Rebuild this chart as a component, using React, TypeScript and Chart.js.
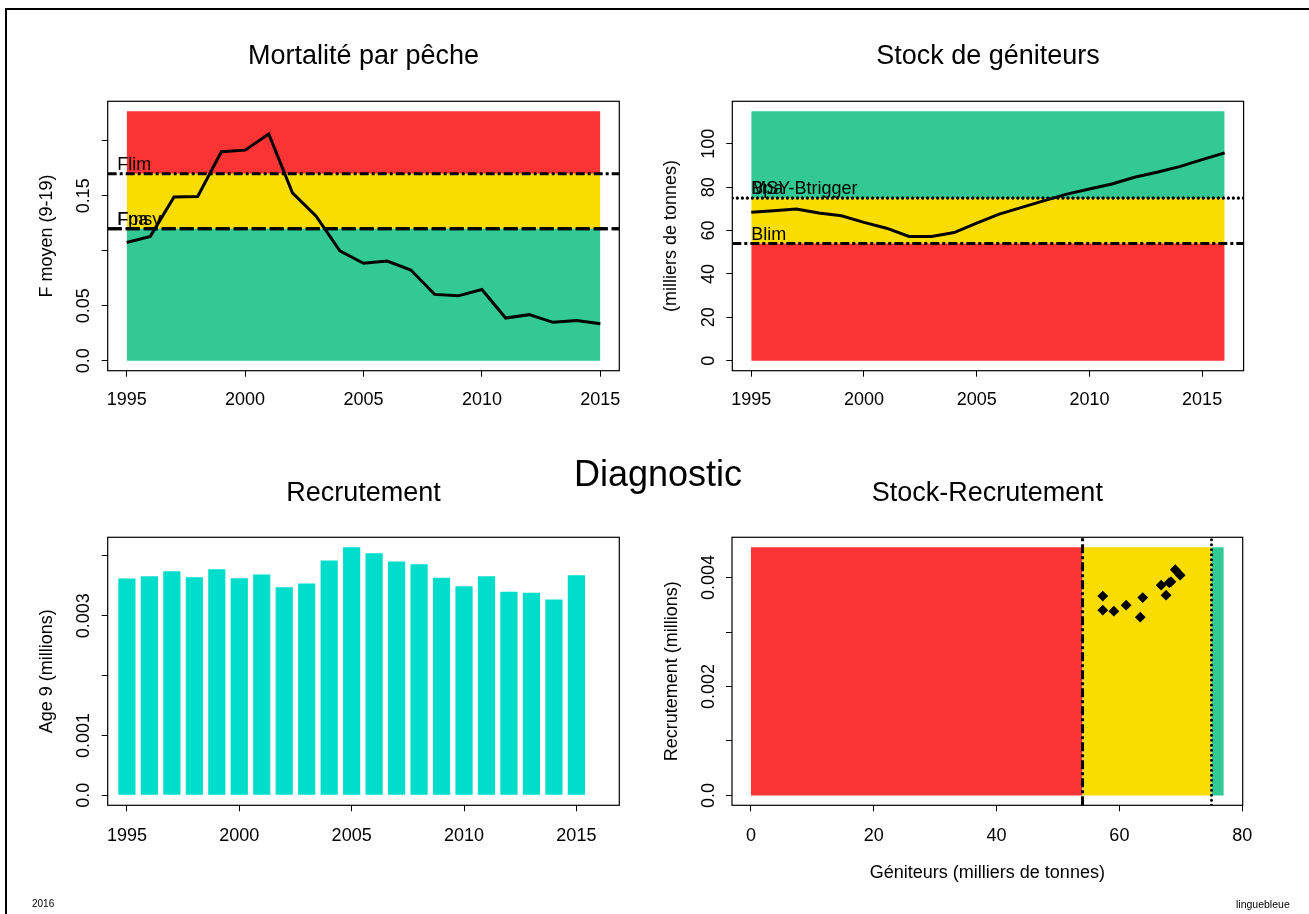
import React, { useEffect, useRef } from "react";
import { Chart, registerables } from "chart.js";

Chart.register(...registerables);

const FONT = "'Liberation Sans', Arial, Helvetica, sans-serif";
Chart.defaults.font.family = FONT;
Chart.defaults.color = "#000";

// ---------------- DATA ----------------
const years = [1995, 1996, 1997, 1998, 1999, 2000, 2001, 2002, 2003, 2004, 2005, 2006, 2007, 2008, 2009, 2010, 2011, 2012, 2013, 2014, 2015];
const fishingMortality = [0.1075, 0.1131, 0.1488, 0.1494, 0.19, 0.1915, 0.2062, 0.1527, 0.1314, 0.0999, 0.0886, 0.0907, 0.0825, 0.0603, 0.059, 0.0648, 0.0388, 0.0419, 0.0349, 0.0365, 0.0337];

const ssbYears = [1995, 1996, 1997, 1998, 1999, 2000, 2001, 2002, 2003, 2004, 2005, 2006, 2007, 2008, 2009, 2010, 2011, 2012, 2013, 2014, 2015, 2016];
const ssb = [68.4, 69.1, 69.9, 68.1, 66.8, 63.8, 61.1, 57.3, 57.3, 59.1, 63.4, 67.6, 70.7, 73.8, 76.8, 79.2, 81.5, 84.6, 86.9, 89.5, 92.7, 95.8];

const recruitment = [0.003622, 0.00366, 0.003743, 0.003643, 0.003777, 0.003627, 0.003688, 0.003477, 0.003538, 0.003922, 0.004143, 0.004043, 0.003905, 0.00386, 0.003633, 0.003493, 0.00366, 0.0034, 0.003383, 0.003272, 0.003677];

const srSSB = [68.4, 69.1, 69.9, 68.1, 66.8, 63.8, 61.1, 57.3, 57.3, 59.1, 63.4, 67.6];
const srRec = [0.003922, 0.004143, 0.004043, 0.003905, 0.00386, 0.003633, 0.003493, 0.00366, 0.0034, 0.003383, 0.003272, 0.003677];

const fRefNames = ["Flim", "Fpa", "Fmsy"];
const fRefValues = [0.17, 0.12, 0.12];
const fLabelX = 1994.6;
const bRefNames = ["Blim", "Bpa", "MSY-Btrigger"];
const bRefValues = [54, 75, 75];
const bLabelX = 1995;

const fZoneBounds = [0.12, 0.17, 0.2268];
const bZoneBounds = [54, 75, 115];
const srZoneX = [0, 54, 75, 77];
const srZoneTop = 0.004557;

// axis ranges
const fXRange = [1994.2, 2015.8];
const fYRange = [-0.00907, 0.2359];
const bXRange = [1994.16, 2016.84];
const bYRange = [-4.6, 119.6];
const rXRange = [1994.145, 2016.91];
const rYRange = [-0.000166, 0.004309];
const srXRange = [-3.08, 80.08];
const srYRange = [-0.000182, 0.004739];

// ticks
const yearTicks = [1995, 2000, 2005, 2010, 2015];
const yearTickLabels = ["1995", "2000", "2005", "2010", "2015"];
const fTicks = [0, 0.05, 0.1, 0.15, 0.2];
const fTickLabels = ["0.0", "0.05", "", "0.15", ""];
const ssbTicks = [0, 20, 40, 60, 80, 100];
const ssbTickLabels = ["0", "20", "40", "60", "80", "100"];
const recTicks = [0, 0.001, 0.002, 0.003, 0.004];
const recTickLabels = ["0.0", "0.001", "", "0.003", ""];
const srYTicks = [0, 0.001, 0.002, 0.003, 0.004];
const srYTickLabels = ["0.0", "", "0.002", "", "0.004"];
const srXTicks = [0, 20, 40, 60, 80];
const srXTickLabels = ["0", "20", "40", "60", "80"];

// ---------------- STYLE ----------------
const RED = "rgb(250, 52, 52)";
const YELLOW = "rgb(249, 221, 0)";
const GREEN = "rgb(51, 201, 149)";
const TURQUOISE = "rgb(0, 221, 202)";

const DASH_DOT = [9, 3, 3, 3];
const DASHED = [14, 4];
const DOTTED = [0.01, 5];

const pts = (xs: number[], ys: number[]) => xs.map((x, i) => ({ x, y: ys[i] }));

const gridOpts = {
  display: true,
  drawOnChartArea: false,
  drawTicks: true,
  tickLength: 6,
  color: "#000",
  lineWidth: 1,
  offset: false,
};

function axisX(range: number[], ticks: number[], labels: string[], height: number, padding: number, title?: { text: string; pad: number }) {
  return {
    type: "linear",
    min: range[0],
    max: range[1],
    bounds: "data",
    offset: false,
    afterBuildTicks: (s: any) => {
      s.ticks = ticks.map((v) => ({ value: v }));
    },
    afterFit: (s: any) => {
      s.height = height;
    },
    grid: gridOpts,
    border: { display: false },
    ticks: {
      autoSkip: false,
      maxRotation: 0,
      minRotation: 0,
      padding,
      color: "#000",
      font: { size: 18, lineHeight: 1 },
      callback: (_v: any, i: number) => labels[i],
    },
    title: title
      ? { display: true, text: title.text, color: "#000", font: { size: 18, lineHeight: 1 }, padding: { top: 0, bottom: title.pad } }
      : { display: false },
  };
}

function axisY(range: number[], ticks: number[], labels: string[], width: number, padding: number, titleText: string, titlePad: number) {
  return {
    type: "linear",
    min: range[0],
    max: range[1],
    bounds: "data",
    afterBuildTicks: (s: any) => {
      s.ticks = ticks.map((v) => ({ value: v }));
    },
    afterFit: (s: any) => {
      s.width = width;
    },
    grid: gridOpts,
    border: { display: false },
    ticks: {
      autoSkip: false,
      minRotation: 90,
      maxRotation: 90,
      crossAlign: "center",
      padding,
      color: "#000",
      font: { size: 18, lineHeight: 1 },
      callback: (_v: any, i: number) => labels[i],
    },
    title: { display: true, text: titleText, color: "#000", font: { size: 18, lineHeight: 1 }, padding: { top: titlePad, bottom: 0 } },
  };
}

function titleOpts(text: string, top: number, bottom: number) {
  return {
    display: true,
    text,
    color: "#000",
    fullSize: false,
    font: { size: 27, weight: "normal", lineHeight: 1 },
    padding: { top, bottom },
  };
}

const boxPlugin = {
  id: "rbox",
  afterDatasetsDraw(chart: any) {
    const { ctx, chartArea: a } = chart;
    ctx.save();
    ctx.strokeStyle = "#000";
    ctx.lineWidth = 1.2;
    ctx.strokeRect(a.left, a.top, a.right - a.left, a.bottom - a.top);
    ctx.restore();
  },
};

const refLabelPlugin = {
  id: "refLabels",
  afterDatasetsDraw(chart: any, _args: any, opts: any) {
    const items = (opts && opts.items) || [];
    const { ctx } = chart;
    const xs = chart.scales.x;
    const ys = chart.scales.y;
    ctx.save();
    ctx.font = `18px ${FONT}`;
    ctx.fillStyle = "#000";
    ctx.textAlign = "left";
    ctx.textBaseline = "alphabetic";
    items.forEach((it: any) => {
      ctx.fillText(it.text, xs.getPixelForValue(it.x), ys.getPixelForValue(it.y) - 4);
    });
    ctx.restore();
  },
};

const baseOptions = {
  animation: false,
  responsive: false,
  maintainAspectRatio: false,
  devicePixelRatio: 1,
  events: [],
};

function refLine(xRange: number[], y: number, dash: number[], round: boolean) {
  return {
    type: "line",
    data: [
      { x: xRange[0], y },
      { x: xRange[1], y },
    ],
    borderColor: "#000",
    borderWidth: 3,
    borderDash: dash,
    borderCapStyle: round ? "round" : "butt",
    pointRadius: 0,
    fill: false,
  };
}

function hZone(x0: number, x1: number, y: number, color: string, fill: any) {
  return {
    type: "line",
    data: [
      { x: x0, y },
      { x: x1, y },
    ],
    borderColor: "transparent",
    borderWidth: 0,
    backgroundColor: color,
    pointRadius: 0,
    fill,
  };
}

// ---------------- CONFIGS ----------------
function mortalityConfig(): any {
  const fDash = [DASH_DOT, DASHED, DASHED];
  const zoneColors = [GREEN, YELLOW, RED];
  return {
    type: "line",
    data: {
      datasets: [
        { type: "line", data: pts(years, fishingMortality), borderColor: "#000", borderWidth: 3, pointRadius: 0, fill: false, tension: 0 },
        ...fRefValues.map((v, i) => refLine(fXRange, v, fDash[i], false)),
        ...fZoneBounds.map((b, i) => hZone(years[0], years[years.length - 1], b, zoneColors[i], i === 0 ? "origin" : "-1")),
      ],
    },
    options: {
      ...baseOptions,
      layout: { padding: { left: 0, right: 34.7, top: 0, bottom: 0 } },
      scales: {
        x: axisX(fXRange, yearTicks, yearTickLabels, 69.3, 14.3),
        y: axisY(fYRange, fTicks, fTickLabels, 107.7, 0, "F moyen (9-19)", 38),
      },
      plugins: {
        legend: { display: false },
        tooltip: { enabled: false },
        title: titleOpts("Mortalité par pêche", 13.5, 30.8),
        refLabels: { items: fRefNames.map((t, i) => ({ text: t, x: fLabelX, y: fRefValues[i] })) },
      },
    },
    plugins: [boxPlugin, refLabelPlugin],
  };
}

function ssbConfig(): any {
  const bDash = [DASH_DOT, DOTTED, DOTTED];
  const bRound = [false, true, true];
  const zoneColors = [RED, YELLOW, GREEN];
  return {
    type: "line",
    data: {
      datasets: [
        { type: "line", data: pts(ssbYears, ssb), borderColor: "#000", borderWidth: 3, pointRadius: 0, fill: false, tension: 0 },
        ...bRefValues.map((v, i) => refLine(bXRange, v, bDash[i], bRound[i])),
        ...bZoneBounds.map((b, i) => hZone(ssbYears[0], ssbYears[ssbYears.length - 1], b, zoneColors[i], i === 0 ? "origin" : "-1")),
      ],
    },
    options: {
      ...baseOptions,
      layout: { padding: { left: 0, right: 65.4, top: 0, bottom: 0 } },
      scales: {
        x: axisX(bXRange, yearTicks, yearTickLabels, 69.3, 14.3),
        y: axisY(bYRange, ssbTicks, ssbTickLabels, 78.3, 2.5, "(milliers de tonnes)", 8),
      },
      plugins: {
        legend: { display: false },
        tooltip: { enabled: false },
        title: titleOpts("Stock de géniteurs", 13.5, 30.8),
        refLabels: { items: bRefNames.map((t, i) => ({ text: t, x: bLabelX, y: bRefValues[i] })) },
      },
    },
    plugins: [boxPlugin, refLabelPlugin],
  };
}

function recruitConfig(): any {
  return {
    type: "bar",
    data: {
      datasets: [
        {
          data: pts(years, recruitment),
          backgroundColor: TURQUOISE,
          borderWidth: 0,
          barPercentage: 0.765,
          categoryPercentage: 1,
        },
      ],
    },
    options: {
      ...baseOptions,
      layout: { padding: { left: 0, right: 34.7, top: 0, bottom: 0 } },
      scales: {
        x: axisX(rXRange, yearTicks, yearTickLabels, 94.7, 15.7),
        y: axisY(rYRange, recTicks, recTickLabels, 107.7, -4.5, "Age 9 (millions)", 38),
      },
      plugins: {
        legend: { display: false },
        tooltip: { enabled: false },
        title: titleOpts("Recrutement", 20.5, 29.8),
      },
    },
    plugins: [boxPlugin],
  };
}

function stockRecruitConfig(): any {
  const vDash = [DASH_DOT, DOTTED];
  const vRound = [false, true];
  const vLines = [srZoneX[1], srZoneX[2]];
  const zoneColors = [RED, YELLOW, GREEN];
  return {
    type: "line",
    data: {
      datasets: [
        {
          type: "line",
          data: pts(srSSB, srRec),
          showLine: false,
          pointStyle: "rectRot",
          pointRadius: 5.4,
          pointBorderWidth: 0,
          pointBackgroundColor: "#000",
          borderColor: "#000",
        },
        ...vLines.map((x, i) => ({
          type: "line",
          data: [
            { x, y: srYRange[0] },
            { x, y: srYRange[1] },
          ],
          borderColor: "#000",
          borderWidth: 3,
          borderDash: vDash[i],
          borderCapStyle: vRound[i] ? "round" : "butt",
          pointRadius: 0,
          fill: false,
        })),
        ...zoneColors.map((c, i) => hZone(srZoneX[i], srZoneX[i + 1], srZoneTop, c, "origin")),
      ],
    },
    options: {
      ...baseOptions,
      layout: { padding: { left: 0, right: 66.3, top: 0, bottom: 0 } },
      scales: {
        x: axisX(srXRange, srXTicks, srXTickLabels, 94.7, 15.7, { text: "Géniteurs (milliers de tonnes)", pad: 18.3 }),
        y: axisY(srYRange, srYTicks, srYTickLabels, 78, -5.3, "Recrutement (millions)", 9),
      },
      plugins: {
        legend: { display: false },
        tooltip: { enabled: false },
        title: titleOpts("Stock-Recrutement", 20.5, 29.8),
      },
    },
    plugins: [boxPlugin],
  };
}

// ---------------- COMPONENTS ----------------
function ChartCanvas(props: { left: number; top: number; width: number; height: number; make: () => any }) {
  const ref = useRef<HTMLCanvasElement>(null);
  useEffect(() => {
    const chart = new Chart(ref.current as HTMLCanvasElement, props.make());
    return () => chart.destroy();
  }, []);
  return (
    <canvas
      ref={ref}
      width={props.width}
      height={props.height}
      style={{ position: "absolute", left: props.left, top: props.top, width: props.width, height: props.height }}
    />
  );
}

export default function App() {
  return (
    <div
      style={{
        position: "absolute",
        left: 0,
        top: 0,
        width: 1309,
        height: 914,
        overflow: "hidden",
        background: "#fff",
        fontFamily: FONT,
        color: "#000",
      }}
    >
      <div
        style={{
          position: "absolute",
          left: 5,
          top: 8,
          width: 1400,
          height: 1000,
          borderLeft: "2px solid #000",
          borderTop: "2px solid #000",
        }}
      />
      <ChartCanvas left={0} top={30} width={654} height={410} make={mortalityConfig} />
      <ChartCanvas left={654} top={30} width={655} height={410} make={ssbConfig} />
      <ChartCanvas left={0} top={460} width={654} height={440} make={recruitConfig} />
      <ChartCanvas left={654} top={460} width={655} height={440} make={stockRecruitConfig} />
      <div
        style={{
          position: "absolute",
          left: 658,
          top: 456,
          transform: "translateX(-50%)",
          fontSize: 36,
          lineHeight: "36px",
          whiteSpace: "nowrap",
        }}
      >
        Diagnostic
      </div>
      <div style={{ position: "absolute", left: 32, top: 899, fontSize: 10, lineHeight: "10px", whiteSpace: "nowrap" }}>2016</div>
      <div style={{ position: "absolute", left: 1236, top: 899, fontSize: 10.5, lineHeight: "10px", whiteSpace: "nowrap" }}>linguebleue</div>
    </div>
  );
}
